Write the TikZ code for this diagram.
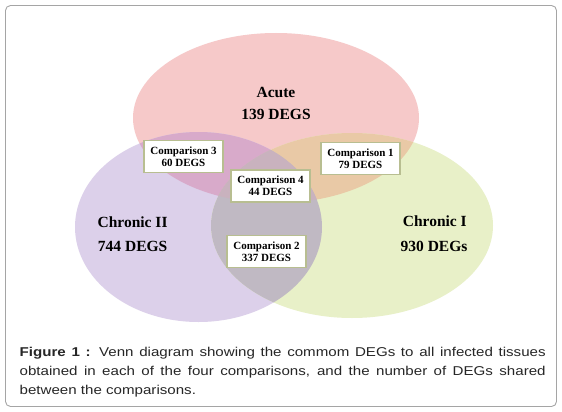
\documentclass[tikz,border=0pt]{standalone}
\usepackage{fontspec}
\setmainfont{Liberation Serif}
\newfontfamily\capfont[FakeStretch=1.18]{Liberation Sans}
\definecolor{cpink}{RGB}{246,201,201}
\definecolor{cpurple}{RGB}{220,208,234}
\definecolor{cgreen}{RGB}{232,240,200}
\definecolor{cmauve}{RGB}{216,170,202}
\definecolor{ctan}{RGB}{233,201,166}
\definecolor{cgray}{RGB}{192,185,195}
\definecolor{ccenter}{RGB}{201,178,190}
\definecolor{boxline}{RGB}{184,190,145}
\definecolor{framegray}{RGB}{165,165,165}
\begin{document}
\begin{tikzpicture}[x=1pt,y=-1pt,
  setlabel/.style={inner sep=0pt,font=\fontsize{15.5}{18}\selectfont\bfseries},
  cmpbox/.style={draw=boxline,line width=1.4pt,fill=white,minimum width=79pt,minimum height=32pt,
    inner sep=0pt,align=center,font=\fontsize{11}{12}\selectfont\bfseries}]
\useasboundingbox (0,0) rectangle (562,412);
\fill[white] (0,0) rectangle (562,412);
\draw[framegray,line width=0.9pt,rounded corners=5pt] (5.5,5.5) rectangle (556.5,406.5);
% sets
\def\acute{(276,118) ellipse [x radius=143, y radius=85]}
\def\chrtwo{(198.5,227) ellipse [x radius=123.5, y radius=95]}
\def\chrone{(352,225.5) ellipse [x radius=141, y radius=92.5]}
\fill[cpink] \acute;
\fill[cpurple] \chrtwo;
\fill[cgreen] \chrone;
\begin{scope}
  \clip \acute;
  \fill[cmauve] \chrtwo;
  \fill[ctan] \chrone;
\end{scope}
\begin{scope}
  \clip \chrtwo;
  \fill[cgray] \chrone;
\end{scope}
\begin{scope}
  \clip \acute;
  \clip \chrtwo;
  \fill[ccenter] \chrone;
\end{scope}
% labels
\node[setlabel] (acuteA) at (276,92) {Acute};
\node[setlabel] (acuteB) at (276,114) {139 DEGS};
\node[setlabel] (ctwoA) at (132.6,222) {Chronic II};
\node[setlabel] (ctwoB) at (132.6,246) {744 DEGS};
\node[setlabel] (coneA) at (434.8,221) {Chronic I};
\node[setlabel] (coneB) at (434,246) {930 DEGs};
% comparison boxes
\node[cmpbox] (c3) at (183.5,156.5) {Comparison 3\\60 DEGS};
\node[cmpbox] (c1) at (360.5,158.3) {Comparison 1\\79 DEGS};
\node[cmpbox] (c4) at (270.5,186) {Comparison 4\\44 DEGS};
\node[cmpbox] (c2) at (266.5,251.7) {Comparison 2\\337 DEGS};
% caption
\node[anchor=north west,inner sep=0pt,text width=526pt,align=justify,text=black!85,
  font=\capfont\fontsize{12.8}{18.6}\selectfont] (cap) at (19.5,347.5)
  {\textbf{Figure 1 :} Venn diagram showing the commom DEGs to all infected tissues\linebreak
   obtained in each of the four comparisons, and the number of DEGs shared\linebreak
   between the comparisons.};
\end{tikzpicture}
\end{document}
